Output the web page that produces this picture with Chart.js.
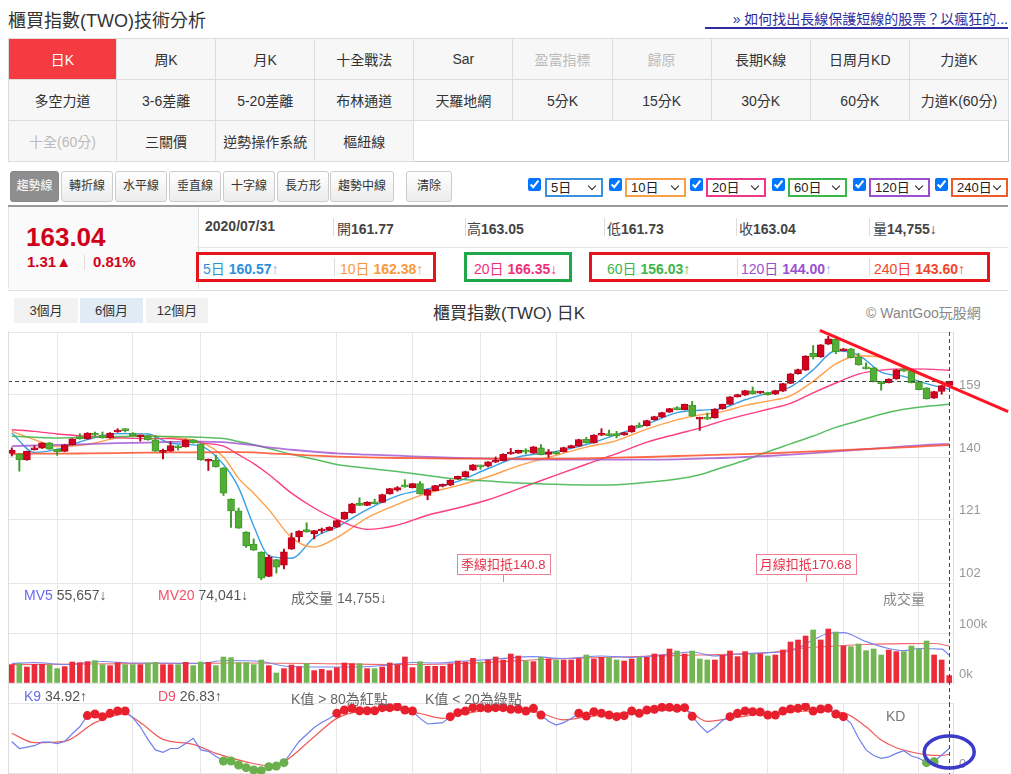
<!DOCTYPE html>
<html>
<head>
<meta charset="utf-8">
<script src="https://cdn.jsdelivr.net/npm/chart.js@4.4.1/dist/chart.umd.min.js"></script>
<style>
  body { margin: 0; width: 1011px; height: 774px; overflow: hidden; background: #fff; position: relative;
         font-family: "Liberation Sans", "Noto Sans CJK TC", sans-serif; color: #333; }
  .abs { position: absolute; white-space: nowrap; }
  #title { left: 8px; top: 6px; font-size: 18px; color: #333; }
  #link { left: 705px; top: 8px; width: 303px; height: 19px; border-bottom: 2px solid #2d2d9e; color: #2d2d9e; font-size: 14px; text-align: right; }
  #menu { position: absolute; left: 8px; top: 38px; width: 1001px; border-collapse: collapse; table-layout: fixed; border: 1px solid #ccc; }
  #menu td { height: 40px; border: 1px solid #ddd; background: #f7f7f7; text-align: center; font-size: 14px; color: #333; padding: 0; }
  #menu td.on { background: #f33b41; color: #fff; }
  #menu td.dis { color: #bbb; }
  #menu td.empty { background: #fff; border-right: 1px solid #ccc; border-bottom: 1px solid #ccc; }
  .tool { top: 171px; height: 29px; line-height: 29px; border: 1px solid #ccc; border-radius: 3px; background: linear-gradient(#fff, #ececec); font-size: 12px; text-align: center; color: #333; }
  .tool.sel { background: #8e8e8e; color: #fff; border-color: #888; }
  .chk { top: 178px; margin: 0; width: 13px; height: 13px; }
  .sel-box { top: 178px; height: 19px; box-sizing: border-box; border: 2px solid; font-size: 13px; line-height: 15px; padding-left: 4px; color: #222; background: #fff; }
  .sel-box i { position: absolute; right: 6px; top: 3px; width: 5px; height: 5px; border-right: 1.5px solid #222; border-bottom: 1.5px solid #222; transform: rotate(45deg); }
  .q { font-size: 14px; color: #444; }
  .q b { color: #444; }
  .sep { width: 1px; background: #ddd; }
  .box { box-sizing: border-box; border: 3px solid #e8141c; }
  .range { top: 298px; height: 25px; line-height: 25px; font-size: 13px; text-align: center; background: #f2f2f2; color: #333; }
  .pane-t { font-size: 14px; color: #555; }
</style>
</head>
<body>
<div id="title" class="abs">櫃買指數(TWO)技術分析</div>
<div id="link" class="abs">» 如何找出長線保護短線的股票？以瘋狂的...</div>

<table id="menu">
  <colgroup><col style="width:108px"><col><col><col><col><col><col><col><col><col></colgroup>
  <tr><td class="on">日K</td><td>周K</td><td>月K</td><td>十全戰法</td><td>Sar</td><td class="dis">盈富指標</td><td class="dis">歸原</td><td>長期K線</td><td>日周月KD</td><td>力道K</td></tr>
  <tr><td>多空力道</td><td>3-6差離</td><td>5-20差離</td><td>布林通道</td><td>天羅地網</td><td>5分K</td><td>15分K</td><td>30分K</td><td>60分K</td><td>力道K(60分)</td></tr>
  <tr><td class="dis">十全(60分)</td><td>三關價</td><td>逆勢操作系統</td><td>樞紐線</td><td class="empty" colspan="6"></td></tr>
</table>

<div class="abs tool sel" style="left:10px;width:47px">趨勢線</div>
<div class="abs tool" style="left:61px;width:50px">轉折線</div>
<div class="abs tool" style="left:115px;width:50px">水平線</div>
<div class="abs tool" style="left:169px;width:50px">垂直線</div>
<div class="abs tool" style="left:223px;width:50px">十字線</div>
<div class="abs tool" style="left:277px;width:50px">長方形</div>
<div class="abs tool" style="left:330px;width:62px">趨勢中線</div>
<div class="abs tool" style="left:406px;width:44px">清除</div>

<input type="checkbox" checked class="abs chk" style="left:528px">
<div class="abs sel-box" style="left:545px;width:58px;border-color:#3a90e0">5日<i></i></div>
<input type="checkbox" checked class="abs chk" style="left:609px">
<div class="abs sel-box" style="left:625px;width:61px;border-color:#f7a046">10日<i></i></div>
<input type="checkbox" checked class="abs chk" style="left:690px">
<div class="abs sel-box" style="left:706px;width:60px;border-color:#f0388a">20日<i></i></div>
<input type="checkbox" checked class="abs chk" style="left:772px">
<div class="abs sel-box" style="left:788px;width:59px;border-color:#3cb54a">60日<i></i></div>
<input type="checkbox" checked class="abs chk" style="left:853px">
<div class="abs sel-box" style="left:869px;width:61px;border-color:#9a4fd0">120日<i></i></div>
<input type="checkbox" checked class="abs chk" style="left:935px">
<div class="abs sel-box" style="left:951px;width:57px;border-color:#f05a28">240日<i></i></div>

<!-- quote panel -->
<div class="abs" style="left:8px;top:205px;width:1000px;height:83px;border-top:2px solid #999;border-bottom:1px solid #ddd;"></div>
<div class="abs" style="left:8px;top:207px;width:189px;height:82px;background:#fafafa;border-right:1px solid #ddd;border-left:1px solid #e5e5e5"></div>
<div class="abs" style="left:197px;top:247px;width:811px;height:1px;background:#e5e5e5"></div>
<div class="abs" style="left:26px;top:222px;font-size:26px;font-weight:bold;color:#d0021b">163.04</div>
<div class="abs" style="left:27px;top:253px;font-size:15px;font-weight:bold;color:#d0021b">1.31▲</div>
<div class="abs sep" style="left:84px;top:255px;height:15px"></div>
<div class="abs" style="left:93px;top:253px;font-size:15px;font-weight:bold;color:#d0021b">0.81%</div>

<div class="abs q" style="left:205px;top:218px"><b>2020/07/31</b></div>
<div class="abs sep" style="left:333px;top:218px;height:18px"></div>
<div class="abs q" style="left:337px;top:218px">開<b>161.77</b></div>
<div class="abs sep" style="left:465px;top:218px;height:18px"></div>
<div class="abs q" style="left:467px;top:218px">高<b>163.05</b></div>
<div class="abs sep" style="left:604px;top:218px;height:18px"></div>
<div class="abs q" style="left:607px;top:218px">低<b>161.73</b></div>
<div class="abs sep" style="left:736px;top:218px;height:18px"></div>
<div class="abs q" style="left:739px;top:218px">收<b>163.04</b></div>
<div class="abs sep" style="left:869px;top:218px;height:18px"></div>
<div class="abs q" style="left:873px;top:218px">量<b>14,755</b>↓</div>

<div class="abs q" style="left:203px;top:258px;color:#2d8fdc">5日 <b style="color:#2d8fdc">160.57</b><span style="color:#7bb8e8">↑</span></div>
<div class="abs sep" style="left:334px;top:258px;height:18px"></div>
<div class="abs q" style="left:340px;top:258px;color:#f79a3e">10日 <b style="color:#f79a3e">162.38</b>↑</div>
<div class="abs q" style="left:474px;top:258px;color:#f0307a">20日 <b style="color:#f0307a">166.35</b>↓</div>
<div class="abs q" style="left:607px;top:258px;color:#3cb54a">60日 <b style="color:#3cb54a">156.03</b>↑</div>
<div class="abs sep" style="left:737px;top:258px;height:18px"></div>
<div class="abs q" style="left:741px;top:258px;color:#9a4fd0">120日 <b style="color:#9a4fd0">144.00</b><span style="color:#a0b8e8">↑</span></div>
<div class="abs sep" style="left:869px;top:258px;height:18px"></div>
<div class="abs q" style="left:874px;top:258px;color:#f0452a">240日 <b style="color:#f0452a">143.60</b>↑</div>

<div class="abs box" style="left:196px;top:252px;width:240px;height:30px"></div>
<div class="abs box" style="left:464px;top:252px;width:108px;height:30px;border-color:#1fa84a"></div>
<div class="abs box" style="left:589px;top:252px;width:401px;height:30px"></div>

<!-- chart header -->
<div class="abs range" style="left:14px;width:64px">3個月</div>
<div class="abs range" style="left:80px;width:63px;background:#e1ebf5">6個月</div>
<div class="abs range" style="left:146px;width:62px">12個月</div>
<div class="abs" style="left:409px;top:299px;width:200px;text-align:center;font-size:17px;color:#333">櫃買指數(TWO) 日K</div>
<div class="abs" style="left:866px;top:302px;font-size:14px;color:#888">© WantGoo玩股網</div>

<canvas id="priceChart" class="abs" width="1003" height="260" style="left:8px;top:322px"></canvas>
<canvas id="volChart" class="abs" width="1003" height="120" style="left:8px;top:583px"></canvas>
<canvas id="kdChart" class="abs" width="1003" height="71" style="left:8px;top:703px"></canvas>
<div class="abs" style="left:8px;top:331px;width:1px;height:443px;background:#ddd"></div>

<div class="abs pane-t" style="left:24px;top:587px"><span style="color:#6a6af0">MV5</span> <span id="mv5t"></span>↓</div>
<div class="abs pane-t" style="left:158px;top:587px"><span style="color:#f5506a">MV20</span> <span id="mv20t"></span>↓</div>
<div class="abs pane-t" style="left:291px;top:587px;color:#666">成交量 <span id="volt"></span>↓</div>
<div class="abs pane-t" style="left:883px;top:588px;color:#888">成交量</div>
<div class="abs pane-t" style="left:24px;top:688px"><span style="color:#6a6af0">K9</span> <span id="kt"></span>↑</div>
<div class="abs pane-t" style="left:158px;top:688px"><span style="color:#f5506a">D9</span> <span id="dt"></span>↑</div>
<div class="abs pane-t" style="left:291px;top:688px;color:#666">K值 &gt; 80為紅點</div>
<div class="abs pane-t" style="left:425px;top:688px;color:#666">K值 &lt; 20為綠點</div>
<div class="abs pane-t" style="left:886px;top:708px;color:#777">KD</div>

<script>
const FONT = '"Liberation Sans", "Noto Sans CJK TC", sans-serif';

// daily candles, 2020 Feb - Jul (index 0 .. 124)
const OPEN = [141.1,140.9,139.1,142.2,142.7,144.3,142.3,141.7,143.7,145.9,
  145.5,147.0,146.7,145.8,147.6,148.3,147.3,146.1,146.4,145.2,
  141.4,141.8,143.4,143.1,145.2,144.0,138.7,139.0,136.7,127.2,
  123.6,117.2,113.5,111.1,103.7,108.8,107.1,112.0,115.7,117.9,
  116.6,117.5,117.7,118.7,121.1,123.0,126.0,125.3,126.3,126.2,
  128.8,129.9,131.4,130.7,131.9,128.3,129.8,131.1,131.4,133.3,
  134.0,136.0,137.4,137.2,138.4,138.9,140.9,141.2,142.0,141.2,
  142.8,140.8,141.6,141.6,142.8,143.3,145.4,144.3,146.6,147.0,
  147.1,146.7,147.6,149.6,149.5,151.3,152.1,153.6,154.7,154.4,
  155.7,151.5,152.0,151.9,154.6,156.0,158.3,158.8,160.1,159.4,
  159.6,159.1,160.0,162.4,165.3,166.4,171.5,170.4,174.3,175.8,
  172.3,172.9,170.4,167.3,167.1,162.9,162.6,163.7,166.6,166.2,
  162.9,161.0,157.9,159.9,161.77];
const HIGH = [142.8,141.0,141.8,143.4,144.4,144.4,142.4,143.8,145.6,147.1,
  147.4,147.6,147.6,147.4,148.6,148.6,147.4,146.7,146.5,146.5,
  142.4,144.7,143.5,145.3,145.3,144.1,139.4,140.6,136.8,127.3,
  124.5,117.3,115.1,111.2,110.2,108.9,112.0,116.9,117.6,120.0,
  117.7,118.4,118.8,120.8,123.3,125.9,127.6,126.4,127.2,128.7,
  130.5,131.0,133.1,132.0,132.5,130.2,131.4,131.8,133.1,134.2,
  135.7,137.7,137.5,138.6,140.0,141.0,142.6,142.1,142.5,143.2,
  143.8,142.3,141.7,143.0,143.6,145.4,146.0,146.8,148.6,148.2,
  147.8,147.5,149.6,150.4,151.2,152.4,153.6,154.8,155.3,156.1,
  156.9,152.1,153.4,154.7,156.1,158.4,159.1,160.3,161.3,160.0,
  159.7,160.3,162.4,165.4,166.7,170.8,173.9,174.2,176.7,175.9,
  173.0,173.0,171.5,168.6,167.2,163.0,163.8,166.6,167.4,166.3,
  163.0,161.1,160.0,161.8,163.05];
const LOW = [140.3,135.7,139.0,142.1,142.6,142.3,140.5,141.6,143.6,145.4,
  145.4,146.5,145.7,145.7,147.5,147.6,146.4,144.8,145.1,141.7,
  139.4,141.7,142.1,143.0,144.2,139.0,135.9,136.9,128.3,118.6,
  118.3,112.5,111.6,102.7,103.6,104.7,106.0,111.9,114.3,117.1,
  115.1,116.9,117.6,118.6,121.0,122.9,125.2,125.2,125.7,126.1,
  128.7,129.6,130.8,130.6,128.7,127.0,129.7,130.9,131.3,133.2,
  133.9,135.9,136.3,137.0,138.3,138.8,140.8,141.1,140.9,141.1,
  140.6,139.9,140.8,141.5,142.7,143.2,144.2,144.2,146.5,146.4,
  145.8,146.6,147.5,149.0,149.4,151.2,152.0,153.5,154.3,154.3,
  152.3,148.1,151.4,151.8,154.5,155.9,158.2,158.7,159.1,159.3,
  158.8,159.0,159.9,162.3,165.2,166.3,169.8,170.3,174.2,171.4,
  172.2,170.1,167.9,166.7,162.8,160.3,162.5,163.6,166.0,162.5,
  160.4,157.6,157.8,159.1,161.73];
const CLOSE = [142.0,139.1,141.7,142.6,144.3,142.4,141.6,143.7,145.5,145.6,
  147.3,146.6,145.8,147.3,148.1,148.0,146.5,146.6,145.2,141.8,
  141.9,143.5,142.8,145.2,144.3,139.1,139.3,137.0,129.0,123.6,
  118.4,113.0,111.7,103.2,109.6,106.5,111.2,115.5,117.5,117.2,
  117.6,117.9,118.7,120.7,123.2,125.8,125.3,126.3,125.8,128.6,
  130.4,130.7,130.9,131.9,128.8,130.1,131.3,131.6,133.0,134.1,
  135.6,137.6,137.0,138.5,138.9,140.8,141.2,142.0,141.5,143.1,
  140.7,141.6,140.9,142.9,143.5,145.3,144.3,146.7,146.9,146.5,
  146.4,147.4,149.5,149.1,151.1,152.3,153.5,154.7,154.4,156.0,
  152.4,152.0,151.5,154.6,156.0,158.3,159.0,160.2,159.2,159.9,
  158.9,160.2,162.3,165.3,166.6,170.68,170.4,174.1,175.9,172.0,
  172.9,170.2,168.0,166.8,162.9,162.3,163.7,166.5,166.1,162.6,
  160.5,157.7,159.9,161.7,163.04];

// moving averages, read at these candle indexes
const MA_IDX = [0,3,6,10,14,18,21,25,28,30,32,34,37,40,43,47,51,55,59,63,67,72,76,80,84,88,91,94,97,100,103,106,109,112,115,118,121,124];
const MA5 = [147.3,141.4,142.3,145.3,147.1,147.0,144.2,143.3,137.7,130.7,119.0,110.0,109.2,115.5,118.7,124.0,128.2,130.3,132.6,136.5,140.0,141.7,143.8,146.8,150.0,153.5,154.2,154.8,157.4,159.4,161.3,166.5,172.3,171.0,165.8,164.5,162.3,160.57];
const MA10 = [147.8,145.3,143.2,143.8,145.8,146.5,146.0,144.5,140.0,133.5,129.0,124.0,115.5,112.6,115.5,121.5,125.6,129.0,131.3,134.0,137.3,140.5,143.0,145.0,148.5,151.3,152.8,153.8,155.7,157.0,158.6,163.0,168.3,170.8,170.3,167.0,164.3,162.38];
const MA20 = [148.3,147.8,147.0,146.3,145.8,145.6,145.6,144.3,143.3,140.7,138.0,134.7,129.0,124.5,121.0,118.0,119.3,122.3,124.5,127.0,130.3,134.5,137.8,141.0,144.5,147.0,148.8,151.0,152.8,154.5,156.3,159.5,162.5,165.2,166.4,166.8,166.7,166.35];
const MA60 = [146.3,146.0,145.8,146.0,146.2,146.3,146.2,146.0,145.6,144.7,143.7,142.6,140.8,139.3,137.7,136.6,135.6,134.4,133.3,132.7,132.1,131.7,131.5,131.6,132.3,133.3,134.6,136.8,139.0,141.6,144.0,146.4,149.0,151.0,153.0,154.5,155.4,156.03];
const MA120 = [143.3,143.5,143.7,143.9,144.2,144.4,144.6,144.7,144.5,144.1,143.6,142.9,142.2,141.6,141.1,140.7,140.4,140.0,139.7,139.5,139.3,139.2,139.2,139.2,139.2,139.3,139.5,139.7,140.0,140.3,140.7,141.2,141.7,142.2,142.7,143.2,143.7,144.0];
const MA240 = [140.9,141.0,141.0,141.1,141.2,141.3,141.4,141.4,141.5,141.5,141.4,141.1,140.8,140.4,140.1,139.9,139.7,139.6,139.5,139.5,139.5,139.5,139.6,139.8,140.0,140.3,140.5,140.7,140.9,141.1,141.4,141.7,142.0,142.3,142.6,142.9,143.3,143.6];

const VOLUME = [36700,38700,32000,37300,37300,36000,28700,32700,42000,40700,
  42700,44700,36700,34700,40700,36700,36700,36700,40000,41300,
  36700,36700,36700,41300,34700,42000,41300,34700,52000,50700,
  40700,40700,36700,46000,34700,20000,28700,36000,32700,38700,
  24700,27300,24700,30700,40000,38700,38700,28700,28700,32000,
  40000,36700,52000,30700,42700,33300,33300,33300,38000,44000,
  42000,49300,42000,46000,52000,46000,58000,54000,44000,42700,
  51300,48000,46000,46000,46000,48700,56000,48000,51300,50700,
  46000,44000,48000,51300,51300,58000,56000,68000,64000,58000,
  64000,48000,46000,46000,55300,64000,52700,62700,57300,58000,
  54000,56000,66000,82000,86000,94000,106000,86000,108000,102000,
  74000,72700,78000,64700,68000,56000,66000,62700,62700,74000,
  68000,84000,56000,46000,14755];
const MV5_IDX = [0,3,7,12,16,20,25,28,33,36,40,45,49,53,56,60,64,69,73,78,82,87,90,93,96,100,103,106,108,110,113,116,118,120,123,124];
const MV5 = [39000,41000,37000,43000,40000,40000,39000,45000,43000,34000,32000,32000,35000,41000,40000,44000,48000,52700,49000,54000,51300,58000,62000,54000,58000,60700,64000,86000,99000,100700,82700,69000,64700,69000,67700,55657];
const MV20_IDX = [0,10,20,30,40,50,58,64,70,78,85,91,100,104,109,113,118,122,124];
const MV20 = [36700,38000,39000,40000,39000,37000,38000,42000,47000,51000,54000,56000,60700,69000,74000,77000,78700,79000,74041];

const K9 = [45,35,37,39,44,44,42,45,56,66,
  82,84.3,80.5,85.2,88.6,88.6,79,66,48,33,
  29.5,35,35,42,49.5,33,31,24,17.1,17.1,
  11.4,7.6,4.3,3.3,9,10,14.8,30,45,55,
  65,72,78,85.2,90,92.4,89,89,89,93.3,
  93.3,94.8,90,88.6,78,70,71,72,80.5,86.2,
  88.6,93.3,93.3,92.4,93.3,93.3,91,91,88.6,92.4,
  82.9,74,68.6,72,78,85.2,81.4,87.6,85.2,82.9,
  80.5,81.9,88.6,85.2,90,91,93.8,93.8,92.4,93.3,
  81,68,58,65,75,80.5,85.2,88.6,87.6,87.1,
  82.9,82.9,88.6,91.4,92.4,94.8,88.6,91.4,92.4,84.3,
  80.5,71,50,33,25,21,23,28,31.9,24.3,
  21,14.8,16.2,25.7,34.92];
const D9_IDX = [0,3,7,11,15,17,20,24,27,31,34,36,40,43,46,51,54,57,60,64,70,73,76,82,89,92,95,100,106,110,113,115,117,119,121,123,124];
const D9 = [56.7,43.3,45.2,72,84.3,72,48,41,28,16,10.5,16,51.9,78,87.6,90,85,78,85,90,85,76,80,87,90,73.8,78,85,88.6,86,66,47,36,30,26,25,26.83];

const PRICE_TICKS = [102, 121, 140, 159, 178];
const VOL_TICKS = [0, 100000, 200000];
const KD_TICKS = [0, 100];
const GRID_IDX = [6, 16, 25, 43, 53, 62, 72, 82, 100, 110, 120];
// 季線 / 月線 deduction days (60 and 20 days back)
const DEDUCT_IDX = [65, 105];
const DEDUCT_NAME = ['季線扣抵', '月線扣抵'];
// hand drawn marks on the picture, in data units
const TREND_LINE = [[106.9, 178.5], [131.8, 153.8]];
const KD_CIRCLE = [124, 30];

const N = CLOSE.length;
const LAST = N - 1;
const idx = CLOSE.map((_, i) => i);
const up = idx.map(i => CLOSE[i] >= OPEN[i]);
const volUp = idx.map(i => CLOSE[i] >= (i ? CLOSE[i - 1] : OPEN[i]));

document.getElementById('mv5t').textContent = MV5[MV5.length - 1].toLocaleString('en-US');
document.getElementById('mv20t').textContent = MV20[MV20.length - 1].toLocaleString('en-US');
document.getElementById('volt').textContent = VOLUME[LAST].toLocaleString('en-US');
document.getElementById('kt').textContent = K9[LAST].toFixed(2);
document.getElementById('dt').textContent = D9[D9.length - 1].toFixed(2);

Chart.defaults.font.family = FONT;
Chart.defaults.animation = false;

function pts(xs, ys) {
    return xs.map((x, j) => ({ x: x, y: ys[j] }));
}

function line(xs, ys, color, width, order) {
    return {
        type: 'line',
        data: pts(xs, ys),
        borderColor: color,
        borderWidth: width || 1.4,
        pointRadius: 0,
        cubicInterpolationMode: 'monotone',
        order: order || 3
    };
}

function xAxis() {
    return {
        type: 'linear',
        min: -0.5,
        max: N - 0.5,
        offset: false,
        grid: { color: '#e6e6e6', drawTicks: false, offset: false },
        border: { display: false },
        ticks: { display: false },
        afterBuildTicks: s => { s.ticks = GRID_IDX.map(v => ({ value: v })); },
        afterFit: s => { s.height = 0; }
    };
}

function yAxis(min, max, ticks, fmt) {
    return {
        position: 'right',
        min: min,
        max: max,
        grid: { color: '#e6e6e6', drawTicks: false },
        border: { display: true, color: '#ddd' },
        ticks: { color: '#999', font: { size: 13 }, padding: 6, labelOffset: -9, callback: fmt },
        afterBuildTicks: s => { s.ticks = ticks.map(v => ({ value: v })); },
        afterFit: s => { s.width = 58; s.paddingTop = 0; s.paddingBottom = 0; }
    };
}

// dashed cross at the last candle
const crossHair = {
    id: 'crossHair',
    afterDatasetsDraw(chart, args, opts) {
        const { ctx, chartArea: a, scales: { x, y } } = chart;
        ctx.save();
        ctx.strokeStyle = '#444';
        ctx.lineWidth = 1;
        ctx.setLineDash([4, 3]);
        const cx = Math.round(x.getPixelForValue(LAST)) + 0.5;
        ctx.beginPath();
        ctx.moveTo(cx, a.top);
        ctx.lineTo(cx, chart.height);
        ctx.stroke();
        if (opts.closeLine) {
            const cy = Math.round(y.getPixelForValue(CLOSE[LAST])) + 0.5;
            ctx.beginPath();
            ctx.moveTo(a.left, cy);
            ctx.lineTo(a.right, cy);
            ctx.stroke();
        }
        ctx.restore();
    }
};

const priceMarks = {
    id: 'priceMarks',
    afterDraw(chart) {
        const { ctx, chartArea: a, scales: { x, y } } = chart;
        ctx.save();
        ctx.font = '13px ' + FONT;
        ctx.textBaseline = 'middle';
        ctx.textAlign = 'center';
        DEDUCT_IDX.forEach((d, j) => {
            const text = DEDUCT_NAME[j] + CLOSE[d];
            const cx = x.getPixelForValue(d);
            const w = ctx.measureText(text).width + 8;
            const top = a.bottom - 28;
            ctx.fillStyle = '#fff';
            ctx.fillRect(cx - w / 2, top, w, 20);
            ctx.strokeStyle = '#f07f94';
            ctx.lineWidth = 1;
            ctx.strokeRect(Math.round(cx - w / 2) + 0.5, top + 0.5, Math.round(w), 20);
            ctx.beginPath();
            ctx.moveTo(Math.round(cx) + 0.5, top + 21);
            ctx.lineTo(Math.round(cx) + 0.5, a.bottom);
            ctx.stroke();
            ctx.fillStyle = '#e8334a';
            ctx.fillText(text, cx, top + 11);
        });
        ctx.strokeStyle = '#ff1424';
        ctx.lineWidth = 3;
        ctx.beginPath();
        ctx.moveTo(x.getPixelForValue(TREND_LINE[0][0]), y.getPixelForValue(TREND_LINE[0][1]));
        ctx.lineTo(x.getPixelForValue(TREND_LINE[1][0]), y.getPixelForValue(TREND_LINE[1][1]));
        ctx.stroke();
        ctx.restore();
    }
};

const kdCircle = {
    id: 'kdCircle',
    afterDraw(chart) {
        const { ctx, scales: { x, y } } = chart;
        ctx.save();
        ctx.strokeStyle = '#3b3bc8';
        ctx.lineWidth = 3.5;
        ctx.beginPath();
        ctx.ellipse(x.getPixelForValue(KD_CIRCLE[0]), y.getPixelForValue(KD_CIRCLE[1]), 25, 16, 0, 0, Math.PI * 2);
        ctx.stroke();
        ctx.restore();
    }
};

const baseOptions = (yScale, extra) => Object.assign({
    responsive: false,
    events: [],
    layout: { padding: 0 },
    scales: { x: xAxis(), y: yScale },
    plugins: { legend: { display: false }, tooltip: { enabled: false } }
}, extra);

// price pane
const priceOpts = baseOptions(
    yAxis(PRICE_TICKS[0], PRICE_TICKS[PRICE_TICKS.length - 1], PRICE_TICKS,
        v => v === PRICE_TICKS[PRICE_TICKS.length - 1] ? '' : v),
    { layout: { padding: { top: 10 } } });
priceOpts.plugins.crossHair = { closeLine: true };

new Chart(document.getElementById('priceChart'), {
    type: 'bar',
    data: {
        datasets: [
            {
                data: idx.map(i => ({ x: i, y: [OPEN[i], CLOSE[i]] })),
                backgroundColor: idx.map(i => up[i] ? '#d2001f' : '#52ae36'),
                borderColor: idx.map(i => up[i] ? '#b8001a' : '#3f9a2a'),
                borderWidth: 1,
                borderSkipped: false,
                barThickness: 7,
                minBarLength: 2,
                grouped: false,
                order: 1
            },
            {
                data: idx.map(i => ({ x: i, y: [LOW[i], HIGH[i]] })),
                backgroundColor: idx.map(i => up[i] ? '#b8001a' : '#3f9a2a'),
                barThickness: 1.3,
                grouped: false,
                order: 2
            },
            line(MA_IDX, MA240, 'rgba(255,80,40,0.85)', 1.8),
            line(MA_IDX, MA120, 'rgba(160,80,210,0.8)', 1.8),
            line(MA_IDX, MA60, 'rgba(60,180,70,0.85)', 1.5),
            line(MA_IDX, MA20, '#ff3d85', 1.4),
            line(MA_IDX, MA10, '#ffa04a', 1.4),
            line(MA_IDX, MA5, '#38a0e6', 1.4)
        ]
    },
    options: priceOpts,
    plugins: [crossHair, priceMarks]
});

// volume pane
new Chart(document.getElementById('volChart'), {
    type: 'bar',
    data: {
        datasets: [
            line(MV5_IDX, MV5, '#7a86f0', 1.2, 0),
            line(MV20_IDX, MV20, '#f26a6a', 1.2, 0),
            {
                data: idx.map(i => ({ x: i, y: VOLUME[i] })),
                backgroundColor: idx.map(i => volUp[i] ? '#eb2a3a' : '#72b552'),
                barThickness: 5,
                grouped: false,
                order: 1
            }
        ]
    },
    options: baseOptions(
        yAxis(0, VOL_TICKS[VOL_TICKS.length - 1], VOL_TICKS,
            v => v === VOL_TICKS[VOL_TICKS.length - 1] ? '' : (v / 1000) + 'k'),
        { layout: { padding: { bottom: 20 } } }),
    plugins: [crossHair]
});

// KD pane
new Chart(document.getElementById('kdChart'), {
    type: 'line',
    data: {
        datasets: [
            {
                data: idx.map(i => ({ x: i, y: K9[i] })),
                borderColor: '#6f7ff0',
                borderWidth: 1.2,
                pointRadius: ctx => (ctx.raw.y > 80 || ctx.raw.y < 20) ? 4.5 : 0,
                pointBackgroundColor: ctx => ctx.raw.y > 80 ? '#e8202e' : '#6ab04c',
                pointBorderWidth: 0,
                clip: false,
                order: 0
            },
            line(D9_IDX, D9, '#f25a5a', 1.2, 1)
        ]
    },
    options: baseOptions(
        yAxis(KD_TICKS[0], KD_TICKS[1], KD_TICKS, v => v === KD_TICKS[1] ? '' : v),
        { layout: { padding: { bottom: 1 } } }),
    plugins: [crossHair, kdCircle]
});
</script>
</body>
</html>
